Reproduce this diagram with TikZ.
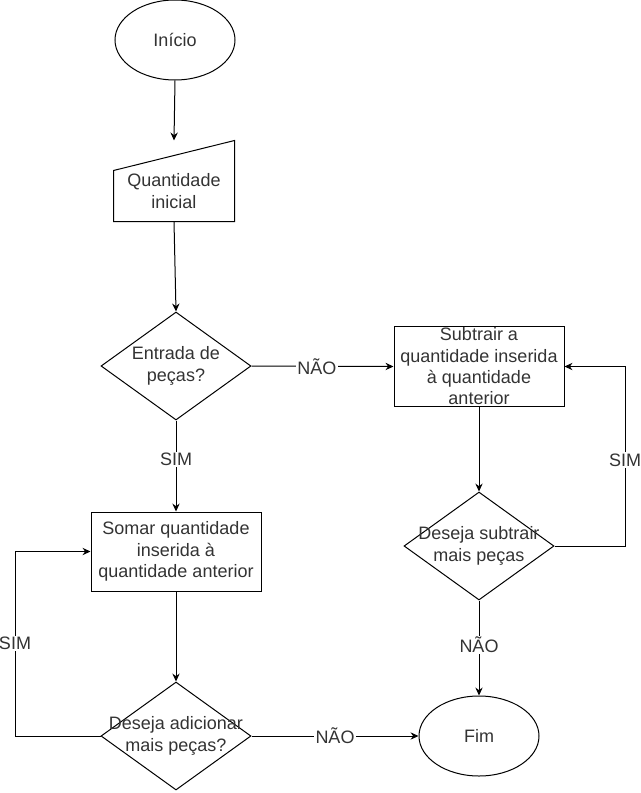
\documentclass[tikz,border=0pt]{standalone}
\usepackage{fontspec}
\setmainfont{Liberation Sans}
\usetikzlibrary{shapes.geometric,arrows.meta}
\begin{document}
\begin{tikzpicture}[x=0.75pt,y=-0.75pt,
  line width=0.75pt,
  txt/.style={font=\fontsize{13.5}{16}\selectfont,align=center,text=black!80,inner sep=0pt},
  term/.style={draw,ellipse,minimum width=90pt,minimum height=60pt,inner sep=0pt},
  procbox/.style={draw,rectangle,minimum width=127.5pt,minimum height=60pt,inner sep=0pt},
  decis/.style={draw,diamond,minimum width=112.5pt,minimum height=81pt,inner sep=0pt},
  arr/.style={-{Stealth[length=6pt,width=5.5pt,inset=2pt]}},
  lab/.style={txt,fill=white,inner sep=1pt}]
\useasboundingbox (0,0) rectangle (641,793);

\node[term,label={[txt]center:Início}] (ini) at (175,40) {};
\node[minimum width=90pt,minimum height=60pt,inner sep=0pt] (qi) at (174,181) {};
\draw ([yshift=-22.5pt]qi.north west) -- (qi.north east) -- (qi.south east) -- (qi.south west) -- cycle;
\node[txt] (qitxt) at (174,191) {Quantidade\\inicial};

\node[decis,label={[txt]center:Entrada de\\peças?}] (d1) at (176,366) {};
\node[procbox,label={[txt]center:Subtrair a\\quantidade inserida\\à quantidade\\anterior}] (sub) at (479,366.5) {};
\node[decis,label={[txt]center:Deseja subtrair\\mais peças}] (d2) at (479,546) {};
\node[term,label={[txt]center:Fim}] (fim) at (479,736) {};
\node[procbox,minimum height=59.25pt,label={[txt]center:Somar quantidade\\inserida à\\quantidade anterior}] (som) at (176,551.5) {};
\node[decis,label={[txt]center:Deseja adicionar\\mais peças?}] (d3) at (176,736) {};

\coordinate (lc) at (15,736);
\coordinate (rc) at (625,546);

\draw[arr] (ini.south) -- (qi.north);
\draw[arr] (qi.south) -- (d1.north);
\draw[arr] (d1.east) -- node[lab,pos=0.46]{NÃO} (sub.west);
\draw[arr] (d1.south) -- node[lab,pos=0.43]{SIM} (som.north);
\draw[arr] (som.south) -- (d3.north);
\draw[arr] (d3.east) -- node[lab]{NÃO} (fim.west);
\draw[arr] (d3.west) -- (lc) -- node[lab]{SIM} (lc |- som.west) -- (som.west);
\draw[arr] (sub.south) -- (d2.north);
\draw[arr] (d2.east) -- (rc) -- node[lab,pos=0.48]{SIM} (rc |- sub.east) -- (sub.east);
\draw[arr] (d2.south) -- node[lab,pos=0.47]{NÃO} (fim.north);
\end{tikzpicture}
\end{document}
